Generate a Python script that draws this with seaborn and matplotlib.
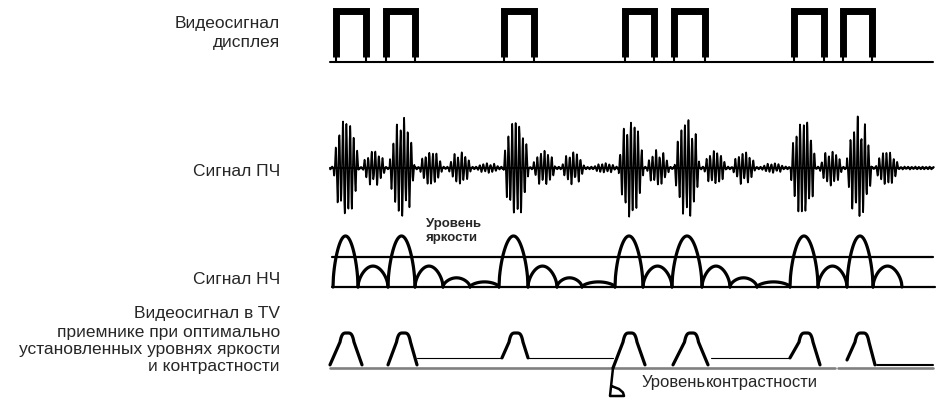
import numpy as np
import pandas as pd
import matplotlib
matplotlib.use("Agg")
import matplotlib.pyplot as plt
import seaborn as sns

sns.set_style("white")
plt.rcParams['font.family'] = ['Liberation Sans', 'DejaVu Sans']

W, H = 937, 401

# --- data (x = time, in picture columns) ---
# display video pulses: rising / falling edges
disp_rise = [336, 386, 504, 625, 674, 794, 843]
disp_fall = [366, 415, 534, 654, 705, 824, 872]

# IF bursts: centre, relative amplitude, width
if_centers = [346, 374, 402, 431, 460, 488, 516, 544, 573, 605,
              631, 658, 687, 715, 744, 773, 803, 831, 859, 887]
if_amps = [1.0, 0.33, 1.0, 0.33, 0.30, 0.07, 1.0, 0.33, 0.30, 0.07,
           1.0, 0.33, 1.0, 0.33, 0.30, 0.07, 1.0, 0.33, 1.0, 0.33]
if_widths = [25, 22, 25, 22, 22, 22, 25, 22, 22, 22,
             25, 22, 25, 22, 22, 22, 25, 22, 25, 22]

# LF (detected) arches: edges and heights
lf_edges = [333, 358, 388, 415, 443, 470, 499, 528, 557, 582, 615,
            643, 672, 702, 730, 757, 790, 818, 847, 873, 902]
lf_heights = [1.0, 0.41, 1.0, 0.41, 0.18, 0.10, 1.0, 0.41, 0.18, 0.10,
              1.0, 0.41, 1.0, 0.41, 0.18, 0.10, 1.0, 0.41, 1.0, 0.41]
brightness_level = 0.59

# TV video pulses: feet positions and levels
tv_left = [330, 388, 502, 613, 673, 790, 847]
tv_right = [362, 417, 528, 645, 708, 820, 875]
tv_left_lvl = [0.09, 0.09, 0.29, 0.0, 0.09, 0.29, 0.23]
tv_right_lvl = [0.09, 0.09, 0.29, 0.09, 0.09, 0.09, 0.09]
contrast_level = 0.29
contrast_segs = [(417, 502), (528, 613), (711, 790)]


fig = plt.figure(figsize=(W / 100, H / 100), dpi=100)


def row_axes(top_px, bot_px, lo, hi):
    ax = fig.add_axes([0, 1 - bot_px / H, 1, (bot_px - top_px) / H])
    ax.axis('off')
    return ax, (lo, hi)


def draw(ax, segs, lw, color='black', **kw):
    df = pd.DataFrame([(i, x, y) for i, s in enumerate(segs) for x, y in s],
                      columns=['seg', 'x', 'y'])
    sns.lineplot(data=df, x='x', y='y', units='seg', estimator=None, sort=False,
                 color=color, lw=lw, legend=False, ax=ax, clip_on=False, **kw)


def finish(ax, lims):
    ax.set_xlim(0, W)
    ax.set_ylim(*lims)
    ax.axis('off')


# row 1: display video
ax1, l1 = row_axes(10.5, 62, 0, 1)
pulses = [[(r, 0.1), (r, 1), (f, 1), (f, 0.1)] for r, f in zip(disp_rise, disp_fall)]
draw(ax1, pulses, 5.0, solid_joinstyle='miter', solid_capstyle='butt')
ticks = [[(e, 0), (e, 0.12)] for e in disp_rise + disp_fall]
draw(ax1, ticks, 1.5)
draw(ax1, [[(330, 0), (933, 0)]], 1.5)
finish(ax1, l1)

# row 2: IF signal
ax2, l2 = row_axes(116, 220, -1, 1)
x = np.arange(330, 934, 0.1)
env = np.full_like(x, 0.03)
for c, a, w in zip(if_centers, if_amps, if_widths):
    u = (x - c) / (w / 2)
    m = np.abs(u) < 1
    env[m] += a * np.cos(np.pi / 2 * u[m]) ** 0.6
mod = 0.5 + 0.3 * np.abs(np.cos(2 * np.pi * x / 13.0)) + 0.2 * np.abs(np.sin(2 * np.pi * x / 5.3))
y = env * mod * np.sin(2 * np.pi * x / 3.6)
draw(ax2, [list(zip(x, y))], 1.2)
draw(ax2, [[(330, 0), (933, 0)]], 1.6)
finish(ax2, l2)

# row 3: LF signal
ax3, l3 = row_axes(236, 287, 0, 1)
u = np.linspace(0, 1, 60)
arches = []
for a, b, h in zip(lf_edges[:-1], lf_edges[1:], lf_heights):
    arches.append(list(zip(a + (b - a) * u, h * np.sin(np.pi * u) ** 0.55)))
draw(ax3, arches, 2.3)
draw(ax3, [[(332, 0), (935, 0)], [(332, brightness_level), (933, brightness_level)]], 1.6)
finish(ax3, l3)

# row 4: TV video
ax4, l4 = row_axes(333, 368, 0, 1)
draw(ax4, [[(330, 0), (835, 0)], [(838, 0), (933, 0)]], 1.9, color='#808080')
shapes = []
t = np.linspace(-1, 1, 30)
for lf, rf, ll, rl in zip(tv_left, tv_right, tv_left_lvl, tv_right_lvl):
    c = (lf + rf) / 2 + 1
    top = list(zip(c + 7 * t, 0.74 + 0.26 * (1 - t ** 4)))
    shapes.append([(lf, ll)] + top + [(rf, rl)])
draw(ax4, shapes, 2.3)
draw(ax4, [[(a, contrast_level), (b, contrast_level)] for a, b in contrast_segs], 0.8)
draw(ax4, [[(877, 0.09), (933, 0.09)]], 1.5)
# pointer mark for the contrast level
draw(ax4, [[(613, 0), (610, -0.8), (624, -0.8), (623, -0.7), (619, -0.6), (612, -0.52)]], 1.8)
finish(ax4, l4)

# labels
def label(txt, xp, yp, **kw):
    fig.text(xp / W, 1 - yp / H, txt, va='baseline', **kw)

for txt, yp in [("Видеосигнал", 28), ("дисплея", 47), ("Сигнал ПЧ", 176),
                ("Сигнал НЧ", 284), ("Видеосигнал в TV", 318),
                ("приемнике при оптимально", 337),
                ("установленных уровнях яркости", 354),
                ("и контрастности", 371)]:
    label(txt, 280, yp, ha='right', fontsize=12.5)

label("Уровень", 426, 227, ha='left', fontsize=9.5, fontweight='bold')
label("яркости", 426, 241, ha='left', fontsize=9.5, fontweight='bold')
label("Уровень", 642, 387, ha='left', fontsize=12)
label("контрастности", 818, 387, ha='right', fontsize=12)

fig.savefig("out.png", dpi=100)
